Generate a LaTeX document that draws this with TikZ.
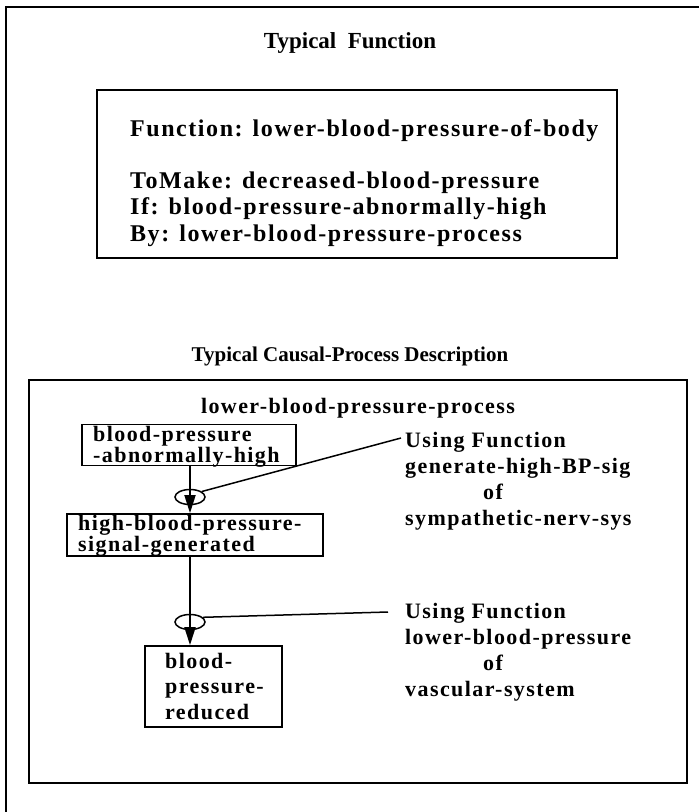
\documentclass[tikz,border=0pt]{standalone}
\usepackage{fontspec}
\setmainfont{Liberation Serif}
\newfontfamily\diagfont{Liberation Serif Bold}[LetterSpace=6.5]
\newfontfamily\headfont{Liberation Serif Bold}
\usetikzlibrary{arrows.meta,shapes.geometric}

\tikzset{
  frameline/.style={line width=2.2pt},
  boxline/.style={draw, line width=1.8pt, inner sep=0pt},
  head/.style={font=\headfont\fontsize{21}{25}\selectfont, inner sep=0pt},
  slot/.style={font=\diagfont\fontsize{24}{26.5}\selectfont, inner sep=0pt, align=left},
  body/.style={font=\diagfont\fontsize{22}{20.5}\selectfont, inner sep=0pt, align=left},
  note/.style={font=\diagfont\fontsize{22}{26}\selectfont, inner sep=0pt, align=left},
  flow/.style={line width=1.8pt, -{Triangle[length=18pt,width=11pt]}},
  tie/.style={line width=1.5pt},
  joint/.style={draw, ellipse, line width=1.5pt, minimum width=30pt, minimum height=15pt, inner sep=0pt}
}

\begin{document}
\begin{tikzpicture}[x=1pt,y=-1pt]
\useasboundingbox (0,0) rectangle (699,812);

% outer frame (top and left edges)
\draw[frameline] (699,7) -- (6,7) -- (6,812);

% ---- typical function ----
\node[head, font=\headfont\fontsize{23}{25}\selectfont, anchor=base] (tfhead) at (350,48) {Typical\ \ Function};
\draw[boxline] (97,90) rectangle (617,258);
% multi-line nodes: the base anchor sits on the last line
\node[slot, anchor=base west] (tfslots) at (130,241)
  {Function: lower-blood-pressure-of-body\\[25pt]
   ToMake: decreased-blood-pressure\\
   If: blood-pressure-abnormally-high\\
   By: lower-blood-pressure-process};

% ---- typical causal-process description ----
\node[head, anchor=base] (cphead) at (350,361) {Typical Causal-Process Description};
\draw[boxline] (29,380) rectangle (687,783);
\node[note, anchor=base] (cpname) at (358,413) {lower-blood-pressure-process};

% states: frames, then their labels
\node[boxline, minimum width=214pt, minimum height=41pt] (sa) at (189,445) {};
\node[boxline, minimum width=256pt, minimum height=42pt] (sb) at (195,535) {};
\node[boxline, minimum width=137pt, minimum height=81pt] (sc) at (213.5,686.5) {};
\node[body, anchor=base west] (satext) at (93,462)
  {blood-pressure\\-abnormally-high};
\node[body, anchor=base west] (sbtext) at (78,551)
  {high-blood-pressure-\\signal-generated};
\node[body, font=\diagfont\fontsize{22}{25.5}\selectfont, anchor=base west] (sctext) at (165,719)
  {blood-\\pressure-\\reduced};

% transitions
\coordinate (axis) at (190,0);
\node[joint] (ja) at (190,497) {};
\node[joint] (jb) at (190,622) {};
\draw[flow] (axis |- sa.south) -- (axis |- sb.north);
\draw[flow] (axis |- sb.south) -- (axis |- sc.north);

% function annotations
\node[note, anchor=base west] (fa) at (405,525)
  {Using Function\\generate-high-BP-sig\\\hspace*{78pt}of\\sympathetic-nerv-sys};
\node[note, anchor=base west] (fb) at (405,696)
  {Using Function\\lower-blood-pressure\\\hspace*{78pt}of\\vascular-system};
\coordinate (fatip) at (401,438);
\coordinate (fbtip) at (388,612);
\draw[tie] (ja.25) -- (fatip);
\draw[tie] (jb.20) -- (fbtip);
\end{tikzpicture}
\end{document}
